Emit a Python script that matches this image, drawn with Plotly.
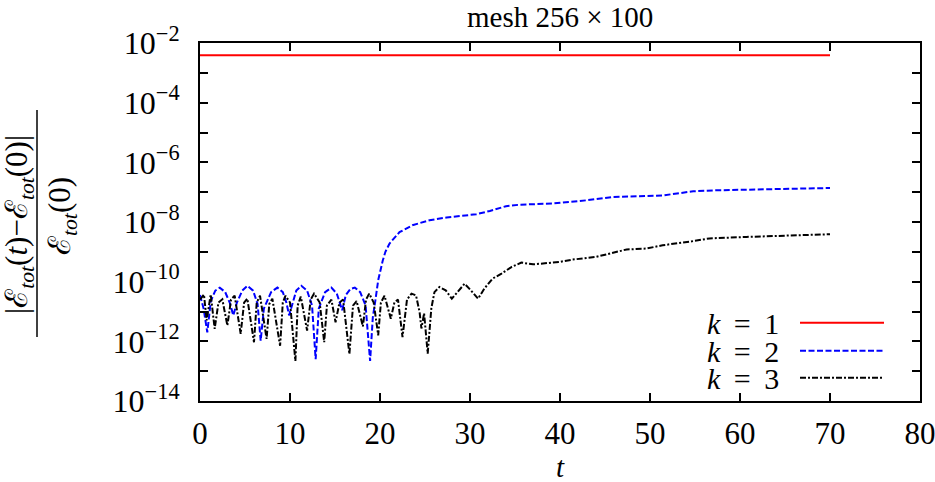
import plotly.graph_objects as go

# ---- data ----
t_k1 = [0.0, 70.0]
k1_log10 = [-2.41, -2.41]

t_k2 = [0.0, 0.4, 0.81, 1.2, 1.7, 2.2, 2.8, 3.3, 3.7, 4.1, 4.7, 5.26, 5.9, 6.4, 6.74,
        7.1, 7.9, 8.6, 9.2, 9.6, 9.9, 10.3, 10.7, 11.26, 11.9, 12.45, 12.85, 13.2,
        13.9, 14.6, 15.2, 15.8, 16.2, 16.7, 17.2, 17.8, 18.4, 18.9, 19.2, 19.5, 19.8,
        20.3, 20.6, 21.06, 22.17, 23.6, 25.5, 27.4, 30.7, 32.2, 34.0, 35.5, 39.2,
        42.2, 45.9, 51.4, 54.8, 57.0, 64.4, 70.0]
k2_log10 = [-10.45, -10.9, -11.7, -10.65, -10.3, -10.2, -10.35, -10.7, -11.13, -10.7,
            -10.3, -10.14, -10.3, -10.75, -11.98, -10.9, -10.35, -10.2, -10.35, -10.7,
            -11.13, -10.7, -10.3, -10.14, -10.3, -10.8, -12.6, -10.9, -10.35, -10.2,
            -10.4, -10.96, -10.45, -10.25, -10.2, -10.35, -10.8, -12.66, -11.2, -10.6,
            -9.95, -9.3, -9.0, -8.72, -8.34, -8.11, -7.94, -7.85, -7.74, -7.63, -7.47,
            -7.42, -7.38, -7.30, -7.16, -7.11, -6.97, -6.94, -6.90, -6.86]

t_k3 = [0.0, 0.44, 0.74, 1.19, 1.63, 2.05, 2.48, 3.04, 3.45, 3.85, 4.52, 4.9, 5.26,
        6.0, 6.3, 6.67, 7.4, 7.7, 8.04, 8.9, 9.2, 9.5, 10.0, 10.6, 10.85, 11.2, 11.9,
        12.3, 12.67, 13.3, 13.8, 14.1, 14.6, 15.06, 15.5, 15.9, 16.6, 17.0, 17.4,
        18.1, 18.45, 18.8, 19.3, 19.8, 20.1, 20.5, 21.2, 21.6, 22.0, 22.5, 23.0,
        23.5, 24.0, 24.4, 24.6, 24.9, 25.3, 25.7, 26.05, 26.6, 27.3, 27.98, 28.6,
        29.4, 30.1, 30.9, 31.6, 32.5, 33.5, 34.6, 35.7, 37.0, 39.9, 41.4, 44.0,
        47.4, 49.6, 51.4, 54.8, 56.6, 60.7, 64.4, 70.0]
k3_log10 = [-10.6, -10.43, -11.3, -10.43, -11.58, -10.7, -10.59, -11.47, -10.6, -10.47,
            -11.75, -10.7, -10.57, -12.03, -10.7, -10.47, -11.92, -10.75, -10.57,
            -12.15, -10.7, -10.47, -10.7, -12.66, -10.8, -10.5, -11.64, -10.6, -10.4,
            -10.7, -12.03, -10.8, -10.6, -11.36, -10.7, -10.6, -12.43, -10.8, -10.65,
            -11.5, -10.6, -10.4, -10.7, -11.8, -10.7, -10.47, -11.24, -10.7, -10.6,
            -11.86, -10.6, -10.4, -10.46, -11.02, -11.57, -11.06, -12.41, -10.9,
            -10.35, -10.18, -10.29, -10.57, -10.35, -10.07, -10.29, -10.57, -10.23,
            -9.90, -9.73, -9.51, -9.36, -9.42, -9.34, -9.26, -9.17, -8.92, -8.89,
            -8.78, -8.64, -8.55, -8.50, -8.46, -8.41]

x_ticks = [0, 10, 20, 30, 40, 50, 60, 70, 80]
y_major_exp = [-14, -12, -10, -8, -6, -4, -2]
y_minor_exp = [-13, -11, -9, -7, -5, -3]
legend_labels = ["<i>k</i>\u2009 = \u20091", "<i>k</i>\u2009 = \u20092", "<i>k</i>\u2009 = \u20093"]
title_text = "mesh 256 × 100"

# ---- figure ----
FONT = "Liberation Serif"
colors = ["#ff0000", "#0000ff", "#000000"]
dashes = ["solid", "6px,2.5px", "6px,2px,2px,2px"]

fig = go.Figure()
series = [(t_k1, k1_log10), (t_k2, k2_log10), (t_k3, k3_log10)]
for (tt, lv), c, d, name in zip(series, colors, dashes, legend_labels):
    fig.add_trace(go.Scatter(x=tt, y=[10 ** v for v in lv], mode="lines",
                             line=dict(color=c, width=2, dash=d),
                             name=name, showlegend=False))

tickvals_y = [10.0 ** d for d in y_major_exp]
ticktext_y = ["10<sup>−%d</sup>" % (-d) for d in y_major_exp]
minor_y = [10.0 ** d for d in y_minor_exp]

axis_common = dict(showline=True, linecolor="black", linewidth=2, mirror="allticks",
                   ticks="inside", ticklen=8, tickwidth=1.5, tickcolor="black",
                   showgrid=False, zeroline=False, automargin=False)

fig.update_layout(
    width=935, height=482,
    margin=dict(l=200, r=15, t=43, b=81, autoexpand=False),
    paper_bgcolor="white", plot_bgcolor="white",
    xaxis=dict(range=[0, 80], tickvals=x_ticks, ticklabelstandoff=4,
               ticklabeloverflow="allow",
               tickfont=dict(family=FONT, size=31, color="black"), **axis_common),
    yaxis=dict(type="log", range=[-14, -2], tickvals=tickvals_y, ticktext=ticktext_y,
               ticklabelstandoff=12, ticklabeloverflow="allow",
               minor=dict(tickvals=minor_y, ticks="inside", ticklen=8, tickwidth=1.5,
                          tickcolor="black", showgrid=False),
               tickfont=dict(family=FONT, size=32, color="black"), **axis_common),
    showlegend=False,
)

pw = 720.0
ph = 358.0
def px(xpix):
    return (xpix - 200.0) / pw
def py(ypix):
    return (43.0 + ph - ypix) / ph

ann = []
ann.append(dict(text=title_text, x=0.5, y=py(17), xref="paper", yref="paper",
                xanchor="center", yanchor="middle",
                showarrow=False, font=dict(family=FONT, size=29, color="black")))
ann.append(dict(text="<i>t</i>", x=0.5, y=py(467), xref="paper", yref="paper",
                xanchor="center", yanchor="middle",
                showarrow=False, font=dict(family=FONT, size=29, color="black")))
# y axis label (fraction)
ann.append(dict(text="|ℰ<sub><i>tot</i></sub>(<i>t</i>)−ℰ<sub><i>tot</i></sub>(0)|",
                x=px(19), y=py(225), xref="paper", yref="paper", textangle=-90,
                xanchor="center", yanchor="middle",
                showarrow=False, font=dict(family=FONT, size=31, color="black")))
ann.append(dict(text="ℰ<sub><i>tot</i></sub>(0)",
                x=px(62), y=py(216), xref="paper", yref="paper", textangle=-90,
                xanchor="center", yanchor="middle",
                showarrow=False, font=dict(family=FONT, size=31, color="black")))
shapes = [dict(type="line", xref="paper", yref="paper", x0=px(37), x1=px(37),
               y0=py(110), y1=py(337), line=dict(color="black", width=1.5))]

# legend (text left, sample right)
rows = [322.7, 350.7, 377.7]
for lab, c, d, r in zip(legend_labels, colors, dashes, rows):
    ann.append(dict(text=lab, x=px(781), y=py(r), xref="paper", yref="paper",
                    xanchor="right", yanchor="middle", showarrow=False,
                    height=26, valign="middle",
                    font=dict(family=FONT, size=30, color="black")))
    shapes.append(dict(type="line", xref="paper", yref="paper", x0=px(800), x1=px(884),
                       y0=py(r), y1=py(r), line=dict(color=c, width=2, dash=d)))

fig.update_layout(annotations=ann, shapes=shapes)
fig.write_html("out.html", config={"displayModeBar": False},
               post_script="document.body.style.margin='0px';document.body.style.overflow='hidden';")
